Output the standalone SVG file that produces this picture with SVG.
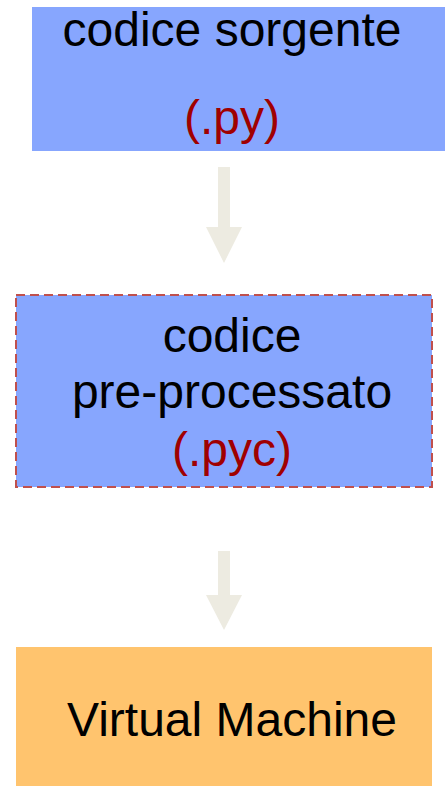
<svg xmlns="http://www.w3.org/2000/svg" width="445" height="786" viewBox="0 0 445 786">
<style>
text{font-family:"Liberation Sans",Arial,sans-serif;font-size:48px;text-anchor:middle}
.k{fill:#000}
.r{fill:#A00000}
.blue{fill:#87A6FE}
.arrow{fill:#EDEBE1}
</style>
<rect width="445" height="786" fill="#fff"/>
<g id="connectors">
<polygon class="arrow" points="218,167 230,167 230,227 242,227 224,263 206,227 218,227"/>
<polygon class="arrow" points="218,551 230,551 230,595 242,595 224,630 206,595 218,595"/>
</g>
<g id="source">
<rect class="blue" x="32" y="7" width="413" height="144"/>
<text class="k" x="232" y="46">codice sorgente</text>
<text class="r" x="232" y="134">(.py)</text>
</g>
<g id="preprocessed">
<rect class="blue" x="16" y="295" width="416" height="192" stroke="#C0504D" stroke-width="2" stroke-dasharray="9,5"/>
<text class="k" x="232" y="352">codice</text>
<text class="k" x="232" y="408">pre-processato</text>
<text class="r" x="232" y="466">(.pyc)</text>
</g>
<g id="vm">
<rect x="16" y="647" width="416" height="139" fill="#FFC46E"/>
<text class="k" x="232" y="736">Virtual Machine</text>
</g>
</svg>
